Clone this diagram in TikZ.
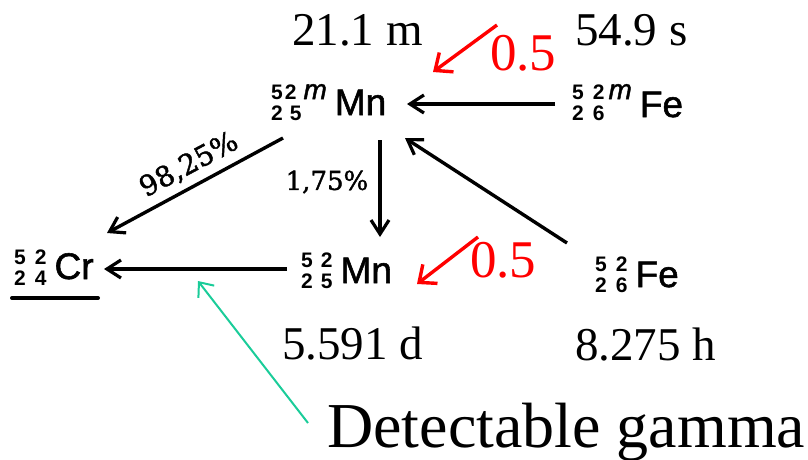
\documentclass[tikz,border=0pt]{standalone}
\usepackage{fontspec}
\setmainfont{Liberation Serif}
\newfontfamily\nucfont[FakeBold=1.5]{Liberation Sans}
\newfontfamily\digfont{Liberation Sans Bold}
\newfontfamily\pctfont[FakeBold=1.5]{DejaVu Serif}
\usetikzlibrary{arrows.meta}
\definecolor{gammagreen}{RGB}{26,204,153}
\newcommand{\nucl}[4]{{\raisebox{-#1pt}{\digfont\fontsize{21}{21}\selectfont\shortstack[l]{#2\\[3pt]#3}}\hspace{8pt}\nucfont\fontsize{37}{37}\selectfont #4}}
\newcommand{\dd}[3]{#2\hspace{#1pt}#3}
\newcommand{\mm}[1]{\hspace{#1pt}{\nucfont\fontsize{28}{28}\selectfont\itshape m}}
\begin{document}
\begin{tikzpicture}[x=1pt,y=-1pt,
  nuc/.style={inner sep=0pt,anchor=base west},
  timelbl/.style={inner sep=0pt,anchor=base west,font=\fontsize{47}{47}\selectfont},
  redlbl/.style={inner sep=0pt,anchor=base west,text=red,font=\fontsize{53}{53}\selectfont},
  pct/.style={inner sep=0pt,font=\pctfont\fontsize{28}{28}\selectfont},
  decay/.style={line width=3.4pt,-{Straight Barb[length=14pt,width=18pt,line width=3.2pt]}},
  redarr/.style={red,line width=3.4pt,-{Straight Barb[length=14pt,width=24pt,line width=3.4pt]}},
  greenarr/.style={gammagreen,line width=2pt,-{Straight Barb[length=12pt,width=20pt,line width=2pt]}}]
\useasboundingbox (0,0) rectangle (808,459);

% nuclides
\node[nuc] (mMn) at (271,115) {\nucl{5}{\dd{2}52\mm{7}}{\dd{7}25}{Mn}};
\node[nuc] (mFe) at (572,117) {\nucl{3}{\dd{9}52\mm{4}}{\dd{9}26}{Fe}};
\node[nuc] (Mn)  at (301,283) {\nucl{5}{\dd{8}52}{\dd{8}25}{Mn}};
\node[nuc] (Fe)  at (595,287) {\nucl{5}{\dd{9}52}{\dd{9}26}{Fe}};
\node[nuc] (Cr)  at (14,279)  {\nucl{6}{\dd{9}52}{\dd{9}24}{Cr}};

% half-lives
\node[timelbl] (tmMn) at (292,45) {21.1 m};
\node[timelbl] (tmFe) at (575,45) {54.9 s};
\node[timelbl] (tMn)  at (282,359) {5.591 d};
\node[timelbl] (tFe)  at (575,360) {8.275 h};

% decay arrows
\draw[decay] ([shift={(-17,-13)}]mFe.base west) -- ([shift={(136,-11)}]mMn.base west);
\draw[decay] ([shift={(-28,-44)}]Fe.base west) -- ([shift={(134,23)}]mMn.base west);
\draw[decay] ([shift={(109,25)}]mMn.base west) -- ([shift={(79,-46)}]Mn.base west);
\draw[decay] ([shift={(12,23)}]mMn.base west) -- ([shift={(93,-46)}]Cr.base west);
\draw[decay] ([shift={(-14,-14)}]Mn.base west) -- ([shift={(90,-10)}]Cr.base west);
\draw[line width=4pt,line cap=round] ([shift={(-2,19)}]Cr.base west) -- ([shift={(84,19)}]Cr.base west);

% branching labels
\node[pct,rotate=28] (p98) at (189,165) {98,25\%};
\node[pct,font=\pctfont\fontsize{26}{26}\selectfont] (p175) at (327,182) {1,75\%};

% red annotations
\node[redlbl] (r1) at (490,70) {0.5};
\node[redlbl] (r2) at (470,277) {0.5};
\coordinate (r1tip) at (433,72);
\coordinate (r2tip) at (417,284);
\draw[redarr] ([shift={(7,-45)}]r1.base west) -- (r1tip);
\draw[redarr] ([shift={(8,-40)}]r2.base west) -- (r2tip);

% detectable gamma
\node[inner sep=0pt,anchor=base west,font=\fontsize{64}{64}\selectfont] (gam) at (327,447) {Detectable gamma};
\coordinate (gtip) at (198,281);
\draw[greenarr] ([shift={(-19,-24)}]gam.base west) -- (gtip);
\end{tikzpicture}
\end{document}
